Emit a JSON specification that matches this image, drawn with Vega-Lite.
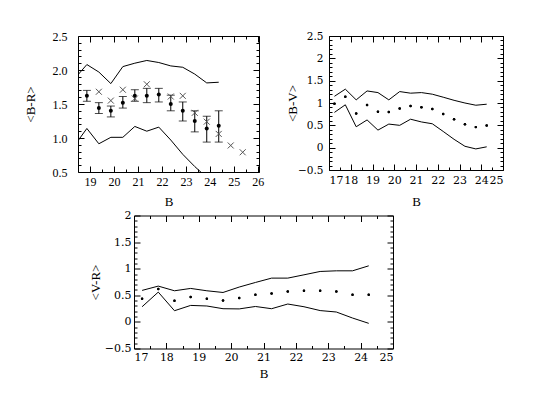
{
  "$schema": "https://vega.github.io/schema/vega-lite/v6.json",
  "padding": {"left": 23, "top": 29, "right": 0, "bottom": 0},
  "bounds": "flush",
  "spacing": 179.5,
  "background": "white",
  "datasets": {
    "br_band": [
      {"B": 18.5, "upper": 1.93, "lower": 0.96},
      {"B": 18.87, "upper": 2.08, "lower": 1.14},
      {"B": 19.37, "upper": 1.97, "lower": 0.915},
      {"B": 19.87, "upper": 1.80, "lower": 1.01},
      {"B": 20.37, "upper": 2.05, "lower": 1.01},
      {"B": 20.87, "upper": 2.10, "lower": 1.17},
      {"B": 21.37, "upper": 2.14, "lower": 1.10},
      {"B": 21.87, "upper": 2.11, "lower": 1.16},
      {"B": 22.37, "upper": 2.06, "lower": 0.97},
      {"B": 22.87, "upper": 2.04, "lower": 0.76},
      {"B": 23.37, "upper": 1.94, "lower": 0.58},
      {"B": 23.87, "upper": 1.81, "lower": 0.42},
      {"B": 24.37, "upper": 1.82, "lower": 0.25}
    ],
    "br_pts": [
      {"B": 18.87, "mean": 1.62, "lo": 1.54, "hi": 1.70, "cross": null},
      {"B": 19.37, "mean": 1.44, "lo": 1.36, "hi": 1.52, "cross": 1.68},
      {"B": 19.87, "mean": 1.40, "lo": 1.31, "hi": 1.47, "cross": 1.55},
      {"B": 20.37, "mean": 1.52, "lo": 1.44, "hi": 1.61, "cross": 1.71},
      {"B": 20.87, "mean": 1.62, "lo": 1.54, "hi": 1.71, "cross": 1.58},
      {"B": 21.37, "mean": 1.62, "lo": 1.52, "hi": 1.73, "cross": 1.79},
      {"B": 21.87, "mean": 1.64, "lo": 1.53, "hi": 1.73, "cross": null},
      {"B": 22.37, "mean": 1.50, "lo": 1.40, "hi": 1.63, "cross": 1.61},
      {"B": 22.87, "mean": 1.40, "lo": 1.25, "hi": 1.53, "cross": 1.62},
      {"B": 23.37, "mean": 1.25, "lo": 1.09, "hi": 1.40, "cross": 1.37},
      {"B": 23.87, "mean": 1.14, "lo": 0.94, "hi": 1.32, "cross": 1.24},
      {"B": 24.37, "mean": 1.18, "lo": 0.94, "hi": 1.40, "cross": 1.06},
      {"B": 24.87, "mean": null, "lo": null, "hi": null, "cross": 0.89},
      {"B": 25.37, "mean": null, "lo": null, "hi": null, "cross": 0.79}
    ],
    "bv": [
      {"B": 17.25, "upper": 1.15, "mean": 0.985, "lower": 0.79},
      {"B": 17.75, "upper": 1.31, "mean": 1.14, "lower": 0.96},
      {"B": 18.25, "upper": 1.07, "mean": 0.765, "lower": 0.468},
      {"B": 18.75, "upper": 1.27, "mean": 0.955, "lower": 0.621},
      {"B": 19.25, "upper": 1.233, "mean": 0.803, "lower": 0.393},
      {"B": 19.75, "upper": 1.07, "mean": 0.80, "lower": 0.528},
      {"B": 20.25, "upper": 1.256, "mean": 0.875, "lower": 0.50},
      {"B": 20.75, "upper": 1.22, "mean": 0.935, "lower": 0.637},
      {"B": 21.25, "upper": 1.233, "mean": 0.907, "lower": 0.576},
      {"B": 21.75, "upper": 1.197, "mean": 0.864, "lower": 0.535},
      {"B": 22.25, "upper": 1.13, "mean": 0.753, "lower": 0.363},
      {"B": 22.75, "upper": 1.06, "mean": 0.637, "lower": 0.187},
      {"B": 23.25, "upper": 1.00, "mean": 0.525, "lower": 0.031},
      {"B": 23.75, "upper": 0.95, "mean": 0.46, "lower": -0.028},
      {"B": 24.25, "upper": 0.973, "mean": 0.495, "lower": 0.019}
    ],
    "vr": [
      {"B": 17.25, "upper": 0.592, "mean": 0.435, "lower": 0.285},
      {"B": 17.75, "upper": 0.673, "mean": 0.617, "lower": 0.56},
      {"B": 18.25, "upper": 0.585, "mean": 0.398, "lower": 0.21},
      {"B": 18.75, "upper": 0.629, "mean": 0.467, "lower": 0.31},
      {"B": 19.25, "upper": 0.585, "mean": 0.435, "lower": 0.299},
      {"B": 19.75, "upper": 0.553, "mean": 0.403, "lower": 0.248},
      {"B": 20.25, "upper": 0.655, "mean": 0.448, "lower": 0.244},
      {"B": 20.75, "upper": 0.741, "mean": 0.51, "lower": 0.29},
      {"B": 21.25, "upper": 0.823, "mean": 0.535, "lower": 0.248},
      {"B": 21.75, "upper": 0.823, "mean": 0.573, "lower": 0.336},
      {"B": 22.25, "upper": 0.885, "mean": 0.585, "lower": 0.285},
      {"B": 22.75, "upper": 0.948, "mean": 0.585, "lower": 0.213},
      {"B": 23.25, "upper": 0.96, "mean": 0.573, "lower": 0.186},
      {"B": 23.75, "upper": 0.96, "mean": 0.51, "lower": 0.073},
      {"B": 24.25, "upper": 1.054, "mean": 0.51, "lower": -0.027}
    ]
  },
  "vconcat": [
    {
      "hconcat": [
        {
          "width": 181, "height": 136,
          "resolve": {"axis": {"x": "independent", "y": "independent"}},
          "layer": [
            {
              "data": {"name": "br_band"},
              "mark": {"type": "line", "color": "black", "strokeWidth": 1, "clip": true},
              "encoding": {
                "x": {"field": "B", "type": "quantitative", "scale": {"domain": [18.5, 26.05], "nice": false, "zero": false},
                      "axis": {"orient": "bottom", "values": [19, 20, 21, 22, 23, 24, 25, 26], "tickSize": -6, "labelPadding": 10, "title": "B", "titlePadding": 8}},
                "y": {"field": "upper", "type": "quantitative", "scale": {"domain": [0.5, 2.5], "nice": false, "zero": false},
                      "axis": {"orient": "left", "values": [0.5, 1, 1.5, 2, 2.5], "format": ".1f", "tickSize": -6, "labelPadding": 17, "title": "<B-R>", "titlePadding": 15}}
              }
            },
            {
              "data": {"name": "br_band"},
              "mark": {"type": "line", "color": "black", "strokeWidth": 1, "clip": true},
              "encoding": {
                "x": {"field": "B", "type": "quantitative", "scale": {"domain": [18.5, 26.05], "nice": false, "zero": false},
                      "axis": {"orient": "bottom", "values": [19.5, 20.5, 21.5, 22.5, 23.5, 24.5, 25.5], "tickSize": -3, "labels": false, "title": null}},
                "y": {"field": "lower", "type": "quantitative", "scale": {"domain": [0.5, 2.5], "nice": false, "zero": false},
                      "axis": {"orient": "left", "values": [0.6, 0.7, 0.8, 0.9, 1.1, 1.2, 1.3, 1.4, 1.6, 1.7, 1.8, 1.9, 2.1, 2.2, 2.3, 2.4], "tickSize": -3, "labels": false, "title": null}}
              }
            },
            {
              "data": {"name": "br_pts"},
              "mark": {"type": "rule", "color": "black", "strokeWidth": 1},
              "encoding": {
                "x": {"field": "B", "type": "quantitative", "scale": {"domain": [18.5, 26.05], "nice": false, "zero": false},
                      "axis": {"orient": "top", "values": [19, 20, 21, 22, 23, 24, 25, 26], "tickSize": -6, "labels": false, "title": null}},
                "y": {"field": "lo", "type": "quantitative", "scale": {"domain": [0.5, 2.5], "nice": false, "zero": false},
                      "axis": {"orient": "right", "values": [0.5, 1, 1.5, 2, 2.5], "tickSize": -6, "labels": false, "title": null}},
                "y2": {"field": "hi"}
              }
            },
            {
              "data": {"name": "br_pts"},
              "mark": {"type": "tick", "orient": "horizontal", "size": 8, "thickness": 1, "color": "black"},
              "encoding": {
                "x": {"field": "B", "type": "quantitative", "scale": {"domain": [18.5, 26.05], "nice": false, "zero": false},
                      "axis": {"orient": "top", "values": [19.5, 20.5, 21.5, 22.5, 23.5, 24.5, 25.5], "tickSize": -3, "labels": false, "title": null}},
                "y": {"field": "lo", "type": "quantitative", "scale": {"domain": [0.5, 2.5], "nice": false, "zero": false},
                      "axis": {"orient": "right", "values": [0.6, 0.7, 0.8, 0.9, 1.1, 1.2, 1.3, 1.4, 1.6, 1.7, 1.8, 1.9, 2.1, 2.2, 2.3, 2.4], "tickSize": -3, "labels": false, "title": null}}
              }
            },
            {
              "data": {"name": "br_pts"},
              "mark": {"type": "tick", "orient": "horizontal", "size": 8, "thickness": 1, "color": "black"},
              "encoding": {
                "x": {"field": "B", "type": "quantitative", "scale": {"domain": [18.5, 26.05], "nice": false, "zero": false}, "axis": null},
                "y": {"field": "hi", "type": "quantitative", "scale": {"domain": [0.5, 2.5], "nice": false, "zero": false}, "axis": null}
              }
            },
            {
              "data": {"name": "br_pts"},
              "mark": {"type": "point", "filled": true, "color": "black", "size": 16, "opacity": 1},
              "encoding": {
                "x": {"field": "B", "type": "quantitative", "scale": {"domain": [18.5, 26.05], "nice": false, "zero": false}, "axis": null},
                "y": {"field": "mean", "type": "quantitative", "scale": {"domain": [0.5, 2.5], "nice": false, "zero": false}, "axis": null}
              }
            },
            {
              "data": {"name": "br_pts"},
              "mark": {"type": "point", "shape": "M-1,-1L1,1M-1,1L1,-1", "filled": false, "color": "#555555", "strokeWidth": 1, "size": 36, "opacity": 1},
              "encoding": {
                "x": {"field": "B", "type": "quantitative", "scale": {"domain": [18.5, 26.05], "nice": false, "zero": false}, "axis": null},
                "y": {"field": "cross", "type": "quantitative", "scale": {"domain": [0.5, 2.5], "nice": false, "zero": false}, "axis": null}
              }
            }
          ]
        },
        {
          "width": 174, "height": 134,
          "resolve": {"axis": {"x": "independent", "y": "independent"}},
          "data": {"name": "bv"},
          "layer": [
            {
              "mark": {"type": "line", "color": "black", "strokeWidth": 1},
              "encoding": {
                "x": {"field": "B", "type": "quantitative", "scale": {"domain": [17, 25], "nice": false, "zero": false},
                      "axis": {"orient": "bottom", "values": [17, 18, 19, 20, 21, 22, 23, 24, 25], "tickSize": -6, "labelPadding": 10, "labelFont": "DejaVu Serif", "labelFontSize": 11, "title": "B", "titlePadding": 10}},
                "y": {"field": "upper", "type": "quantitative", "scale": {"domain": [-0.5, 2.5], "nice": false, "zero": false},
                      "axis": {"orient": "left", "values": [-0.5, 0, 0.5, 1, 1.5, 2, 2.5], "format": ".1~f", "tickSize": -6, "labelPadding": 12, "labelFont": "DejaVu Serif", "labelFontSize": 10.5, "title": "<B-V>", "titlePadding": -2}}
              }
            },
            {
              "mark": {"type": "line", "color": "black", "strokeWidth": 1},
              "encoding": {
                "x": {"field": "B", "type": "quantitative", "scale": {"domain": [17, 25], "nice": false, "zero": false},
                      "axis": {"orient": "bottom", "values": [17.5, 18.5, 19.5, 20.5, 21.5, 22.5, 23.5, 24.5], "tickSize": -3, "labels": false, "title": null}},
                "y": {"field": "lower", "type": "quantitative", "scale": {"domain": [-0.5, 2.5], "nice": false, "zero": false},
                      "axis": {"orient": "left", "values": [-0.4, -0.3, -0.2, -0.1, 0.1, 0.2, 0.3, 0.4, 0.6, 0.7, 0.8, 0.9, 1.1, 1.2, 1.3, 1.4, 1.6, 1.7, 1.8, 1.9, 2.1, 2.2, 2.3, 2.4], "tickSize": -3, "labels": false, "title": null}}
              }
            },
            {
              "mark": {"type": "point", "filled": true, "color": "black", "size": 6, "opacity": 1},
              "encoding": {
                "x": {"field": "B", "type": "quantitative", "scale": {"domain": [17, 25], "nice": false, "zero": false},
                      "axis": {"orient": "top", "values": [17, 18, 19, 20, 21, 22, 23, 24, 25], "tickSize": -6, "labels": false, "title": null}},
                "y": {"field": "mean", "type": "quantitative", "scale": {"domain": [-0.5, 2.5], "nice": false, "zero": false},
                      "axis": {"orient": "right", "values": [-0.5, 0, 0.5, 1, 1.5, 2, 2.5], "tickSize": -6, "labels": false, "title": null}}
              }
            },
            {
              "mark": {"type": "point", "filled": true, "color": "black", "size": 6, "opacity": 1},
              "encoding": {
                "x": {"field": "B", "type": "quantitative", "scale": {"domain": [17, 25], "nice": false, "zero": false},
                      "axis": {"orient": "top", "values": [17.5, 18.5, 19.5, 20.5, 21.5, 22.5, 23.5, 24.5], "tickSize": -3, "labels": false, "title": null}},
                "y": {"field": "mean", "type": "quantitative", "scale": {"domain": [-0.5, 2.5], "nice": false, "zero": false},
                      "axis": {"orient": "right", "values": [-0.4, -0.3, -0.2, -0.1, 0.1, 0.2, 0.3, 0.4, 0.6, 0.7, 0.8, 0.9, 1.1, 1.2, 1.3, 1.4, 1.6, 1.7, 1.8, 1.9, 2.1, 2.2, 2.3, 2.4], "tickSize": -3, "labels": false, "title": null}}
              }
            }
          ]
        }
      ],
      "spacing": 70,
      "bounds": "flush"
    },
    {
      "hconcat": [
        {
          "width": 46, "height": 1,
          "data": {"values": [{"a": 0}]},
          "mark": {"type": "point", "opacity": 0},
          "view": {"stroke": null}
        },
        {
          "width": 259, "height": 133,
          "resolve": {"axis": {"x": "independent", "y": "independent"}},
          "data": {"name": "vr"},
          "layer": [
            {
              "mark": {"type": "line", "color": "black", "strokeWidth": 1},
              "encoding": {
                "x": {"field": "B", "type": "quantitative", "scale": {"domain": [17, 25], "nice": false, "zero": false},
                      "axis": {"orient": "bottom", "values": [17, 18, 19, 20, 21, 22, 23, 24, 25], "tickSize": -6, "labelPadding": 9, "labelFont": "DejaVu Serif", "labelFontSize": 11, "title": "B", "titlePadding": 5}},
                "y": {"field": "upper", "type": "quantitative", "scale": {"domain": [-0.5, 2], "nice": false, "zero": false},
                      "axis": {"orient": "left", "values": [-0.5, 0, 0.5, 1, 1.5, 2], "format": ".1~f", "tickSize": -6, "labelPadding": 9, "labelFont": "DejaVu Serif", "labelFontSize": 11, "title": "<V-R>", "titlePadding": 2}}
              }
            },
            {
              "mark": {"type": "line", "color": "black", "strokeWidth": 1},
              "encoding": {
                "x": {"field": "B", "type": "quantitative", "scale": {"domain": [17, 25], "nice": false, "zero": false},
                      "axis": {"orient": "bottom", "values": [17.5, 18.5, 19.5, 20.5, 21.5, 22.5, 23.5, 24.5], "tickSize": -3, "labels": false, "title": null}},
                "y": {"field": "lower", "type": "quantitative", "scale": {"domain": [-0.5, 2], "nice": false, "zero": false},
                      "axis": {"orient": "left", "values": [-0.4, -0.3, -0.2, -0.1, 0.1, 0.2, 0.3, 0.4, 0.6, 0.7, 0.8, 0.9, 1.1, 1.2, 1.3, 1.4, 1.6, 1.7, 1.8, 1.9], "tickSize": -3, "labels": false, "title": null}}
              }
            },
            {
              "mark": {"type": "point", "filled": true, "color": "black", "size": 6, "opacity": 1},
              "encoding": {
                "x": {"field": "B", "type": "quantitative", "scale": {"domain": [17, 25], "nice": false, "zero": false},
                      "axis": {"orient": "top", "values": [17, 18, 19, 20, 21, 22, 23, 24, 25], "tickSize": -6, "labels": false, "title": null}},
                "y": {"field": "mean", "type": "quantitative", "scale": {"domain": [-0.5, 2], "nice": false, "zero": false},
                      "axis": {"orient": "right", "values": [-0.5, 0, 0.5, 1, 1.5, 2], "tickSize": -6, "labels": false, "title": null}}
              }
            },
            {
              "mark": {"type": "point", "filled": true, "color": "black", "size": 6, "opacity": 1},
              "encoding": {
                "x": {"field": "B", "type": "quantitative", "scale": {"domain": [17, 25], "nice": false, "zero": false},
                      "axis": {"orient": "top", "values": [17.5, 18.5, 19.5, 20.5, 21.5, 22.5, 23.5, 24.5], "tickSize": -3, "labels": false, "title": null}},
                "y": {"field": "mean", "type": "quantitative", "scale": {"domain": [-0.5, 2], "nice": false, "zero": false},
                      "axis": {"orient": "right", "values": [-0.4, -0.3, -0.2, -0.1, 0.1, 0.2, 0.3, 0.4, 0.6, 0.7, 0.8, 0.9, 1.1, 1.2, 1.3, 1.4, 1.6, 1.7, 1.8, 1.9], "tickSize": -3, "labels": false, "title": null}}
              }
            }
          ]
        }
      ],
      "spacing": 10,
      "bounds": "flush"
    }
  ],
  "config": {
    "view": {"stroke": "black", "strokeWidth": 1},
    "axis": {"grid": false, "domain": false, "tickColor": "black", "tickWidth": 1, "labelColor": "black", "titleColor": "black", "titleFontWeight": "normal", "labelFont": "Liberation Serif", "titleFont": "Liberation Serif", "labelFontSize": 12, "titleFontSize": 13}
  }
}
